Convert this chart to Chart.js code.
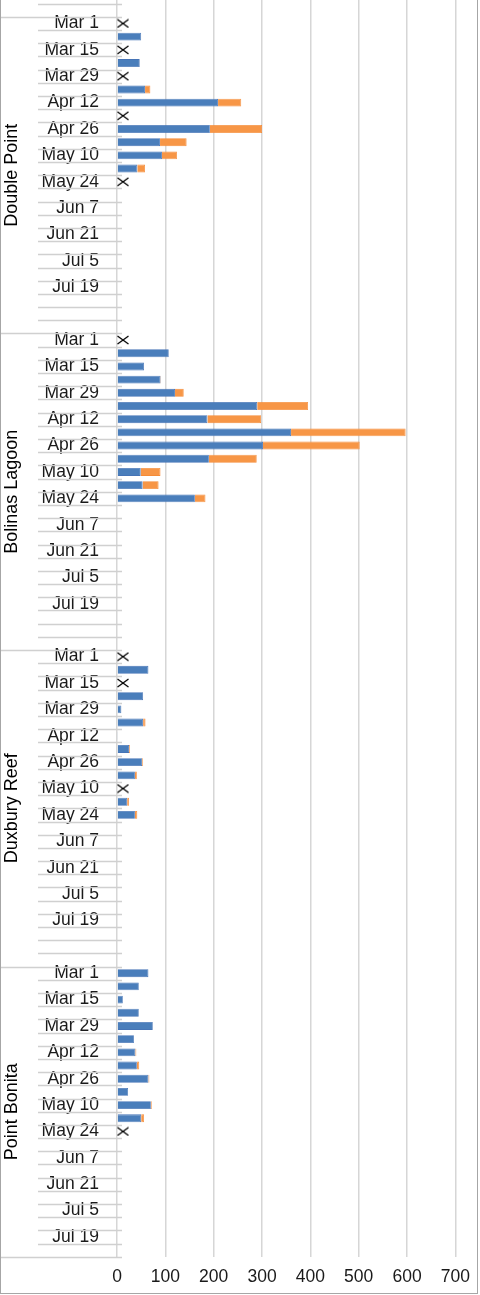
<!DOCTYPE html>
<html lang="en">
<head>
<meta charset="UTF-8">
<title>Weekly counts by site</title>
<script src="https://cdn.jsdelivr.net/npm/chart.js"></script>
<style>
  body { margin: 0; background: #fff; }
  #wrap { position: relative; width: 480px; height: 1295px; overflow: hidden; }
  #chart { position: absolute; left: 0; top: -30px; }
  #frame { position: absolute; left: 0; top: -10px; width: 476px; height: 1302px; border: 1px solid #a6a6a6; pointer-events: none; }
</style>
</head>
<body>
<div id="wrap">
  <canvas id="chart" width="480" height="1325"></canvas>
  <div id="frame"></div>
</div>
<script>
// week labels (Mar 1 .. Jul 26)
const weeks = ['Mar 1', 'Mar 8', 'Mar 15', 'Mar 22', 'Mar 29', 'Apr 5', 'Apr 12', 'Apr 19', 'Apr 26',
  'May 3', 'May 10', 'May 17', 'May 24', 'May 31', 'Jun 7', 'Jun 14', 'Jun 21', 'Jun 28',
  'Jul 5', 'Jul 12', 'Jul 19', 'Jul 26'];

const sites = ['Double Point', 'Bolinas Lagoon', 'Duxbury Reef', 'Point Bonita'];
const siteRows = [24, 24, 24, 22];

// values for Mar 1 .. May 24 (blue series, orange series)
const doublePointBlue   = [null, 50, null, 47, null, 58, 209, null, 192, 89, 93, 42, null];
const doublePointOrange = [null, null, null, null, null, 11, 48, null, 108, 55, 31, 16, null];
const bolinasBlue   = [null, 107, 56, 90, 120, 290, 187, 360, 302, 190, 49, 53, 161];
const bolinasOrange = [null, null, null, 1, 18, 105, 111, 237, 200, 99, 41, 33, 22];
const duxburyBlue   = [null, 65, null, 54, 9, 54, 2, 25, 52, 37, null, 21, 37];
const duxburyOrange = [null, null, null, null, null, 5, null, 2, 2, 4, null, 4, 5];
const bonitaBlue   = [65, 45, 12, 45, 74, 35, 38, 41, 65, 23, 70, 50, null];
const bonitaOrange = [null, null, null, null, null, null, 2, 5, 2, null, 2, 6, null];

// weeks marked with an x
const doublePointX = ['Mar 1', 'Mar 15', 'Mar 29', 'Apr 19', 'May 24'];
const bolinasX = ['Mar 1'];
const duxburyX = ['Mar 1', 'Mar 15', 'May 10'];
const bonitaX = ['May 24'];

const blueBySite = [doublePointBlue, bolinasBlue, duxburyBlue, bonitaBlue];
const orangeBySite = [doublePointOrange, bolinasOrange, duxburyOrange, bonitaOrange];
const xBySite = [doublePointX, bolinasX, duxburyX, bonitaX];

// build rows: two rows of the (cut off) group above, then the four sites
const lead = 2;
const labels = [], blue = [], orange = [], marks = [], groupStart = [];
for (let i = 0; i < lead; i++) { labels.push(''); blue.push(null); orange.push(null); marks.push(null); }
sites.forEach((s, g) => {
  groupStart.push(labels.length);
  for (let i = 0; i < siteRows[g]; i++) {
    const wk = weeks[i] || '';
    labels.push(i % 2 === 0 ? wk : '');
    blue.push(i < blueBySite[g].length ? blueBySite[g][i] : null);
    orange.push(i < orangeBySite[g].length ? orangeBySite[g][i] : null);
    marks.push(wk && xBySite[g].includes(wk) ? 0 : null);
  }
});

// x glyph, drawn to the right of its anchor so it sits just past the axis
const xMark = document.createElement('canvas');
xMark.width = 24; xMark.height = 10;
const mc = xMark.getContext('2d');
mc.strokeStyle = '#000'; mc.lineWidth = 1.3;
mc.beginPath();
mc.moveTo(12.5, 1); mc.lineTo(23.5, 9);
mc.moveTo(12.5, 9); mc.lineTo(23.5, 1);
mc.stroke();

const rowLines = {
  id: 'rowLines',
  beforeDatasetsDraw(chart) {
    const y = chart.scales.y, ctx = chart.ctx;
    const axisX = chart.chartArea.left;
    const step = y.getPixelForValue(1) - y.getPixelForValue(0);
    const longAt = new Set();
    groupStart.forEach(s => longAt.add(s - 1));
    longAt.add(labels.length - 1);
    ctx.save();
    ctx.strokeStyle = '#d0d0d0';
    ctx.lineWidth = 1.5;
    for (let i = 0; i < labels.length; i++) {
      const yb = Math.round(y.getPixelForValue(i) + step / 2) + 0.5;
      ctx.beginPath();
      ctx.moveTo(longAt.has(i) ? 0 : 38, yb);
      ctx.lineTo(axisX + 5, yb);
      ctx.stroke();
    }
    // group names
    ctx.fillStyle = '#000';
    ctx.font = '18px "Liberation Sans", Arial, sans-serif';
    ctx.textAlign = 'center';
    ctx.textBaseline = 'middle';
    sites.forEach((s, g) => {
      const top = y.getPixelForValue(groupStart[g]) - step / 2;
      const bot = y.getPixelForValue(groupStart[g] + siteRows[g] - 1) + step / 2;
      ctx.save();
      ctx.translate(12, (top + bot) / 2);
      ctx.rotate(-Math.PI / 2);
      ctx.fillText(s, 0, 0);
      ctx.restore();
    });
    ctx.restore();
  }
};

Chart.defaults.font.family = '"Liberation Sans", Arial, sans-serif';
Chart.defaults.font.size = 17.5;
Chart.defaults.color = '#1a1a1a';

new Chart(document.getElementById('chart'), {
  type: 'bar',
  data: {
    labels: labels,
    datasets: [
      { label: 'Series 1', data: blue, backgroundColor: '#4a7ebb', borderColor: '#4674b6', borderWidth: 0.8,
        barPercentage: 0.6, categoryPercentage: 1 },
      { label: 'Series 2', data: orange, backgroundColor: '#f79646', borderColor: '#f58b38', borderWidth: 0.8,
        barPercentage: 0.6, categoryPercentage: 1 },
      { type: 'line', label: 'x', data: marks, indexAxis: 'y', showLine: false,
        pointStyle: xMark, pointRadius: 6, pointHoverRadius: 6, borderColor: '#000', backgroundColor: '#000' }
    ]
  },
  options: {
    indexAxis: 'y',
    responsive: false,
    animation: false,
    layout: { autoPadding: false, padding: { top: 19.6, right: 24, left: 0, bottom: 0 } },
    plugins: { legend: { display: false }, tooltip: { enabled: false } },
    scales: {
      x: {
        stacked: true,
        min: 0, max: 700,
        ticks: { stepSize: 100, padding: 10 },
        grid: { color: '#d6d6d6', lineWidth: 1.5, drawTicks: false },
        border: { display: false },
        afterFit(s) { s.height = 38.2; }
      },
      y: {
        stacked: true,
        grid: { display: false },
        border: { display: false },
        ticks: { autoSkip: false, padding: 10 },
        afterFit(s) { s.width = 117; }
      }
    }
  },
  plugins: [rowLines]
});
</script>
</body>
</html>
